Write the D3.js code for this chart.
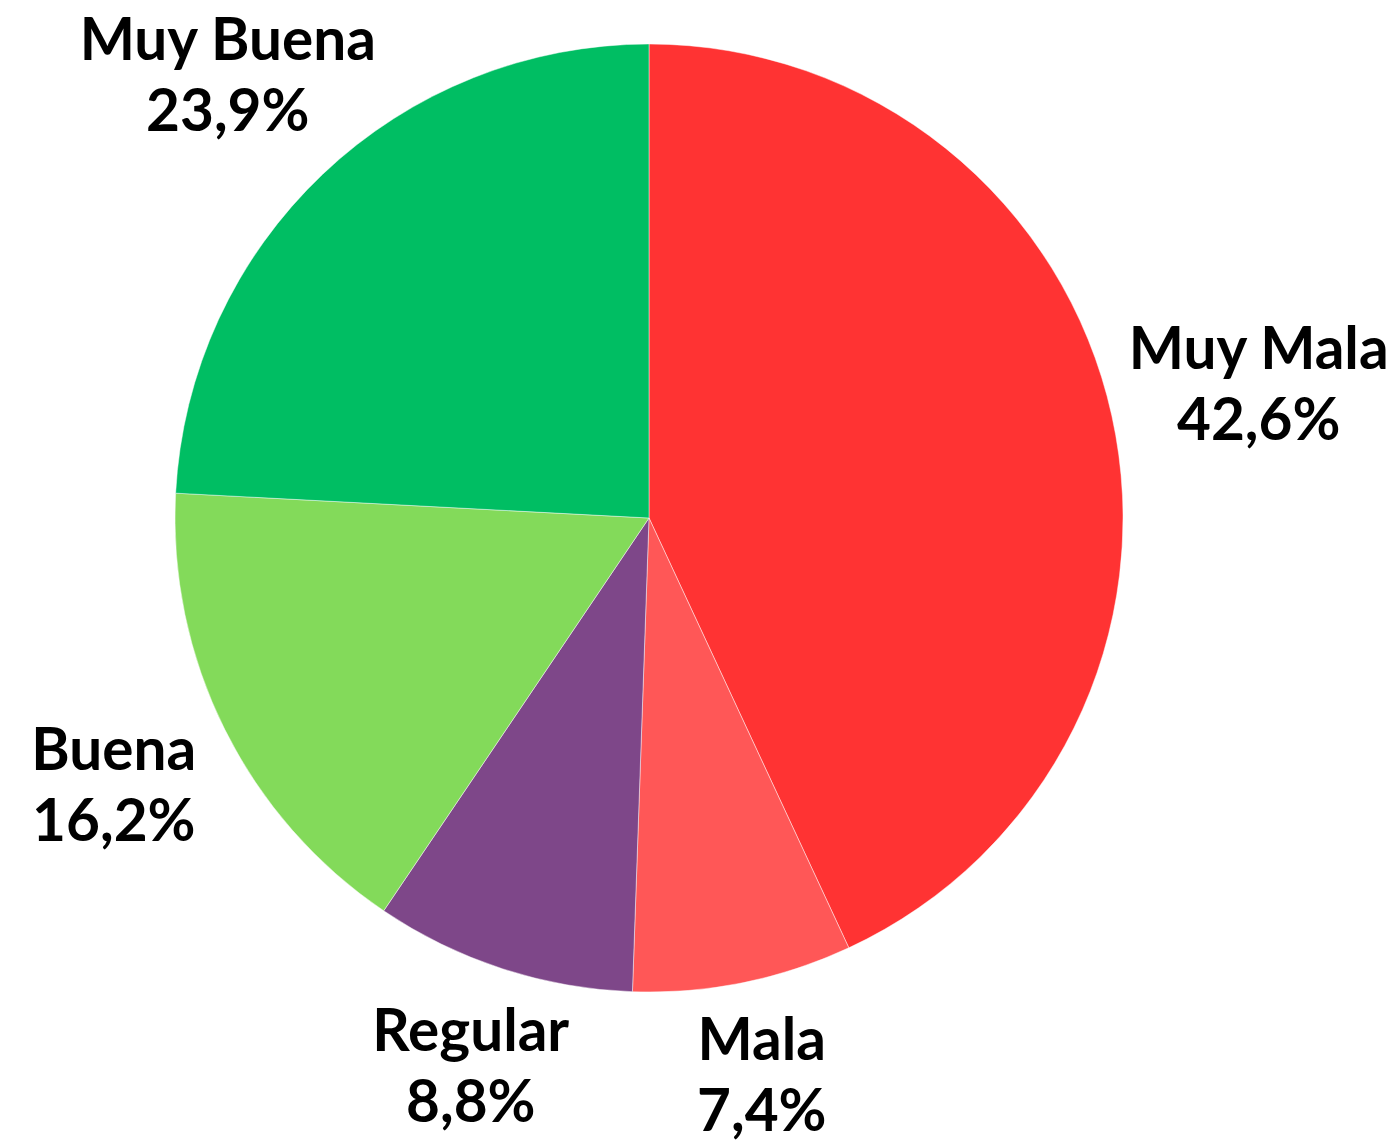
<!DOCTYPE html>
<html><head><meta charset="utf-8">
<script src="https://cdn.jsdelivr.net/npm/d3@7"></script>
<style>html,body{margin:0;padding:0;background:#fff;}</style>
</head><body>
<svg id="chart" width="1395" height="1142"></svg>
<script>
const categories = ["Muy Mala", "Mala", "Regular", "Buena", "Muy Buena"];
const values = [42.6, 7.4, 8.8, 16.2, 23.9];
const labels = ["42,6%", "7,4%", "8,8%", "16,2%", "23,9%"];
const colors = ["#FF3333", "#FF5757", "#7E4789", "#83DA5A", "#00BE63"];

const W = 1395, H = 1142;
const cx = 649, cy = 518, R = 474;
const fontSize = 58.5, lineGap = 71;

const svg = d3.select("#chart");
const g = svg.append("g").attr("transform", `translate(${cx},${cy})`);

const data = categories.map((c, i) => ({cat: c, value: values[i], label: labels[i], color: colors[i]}));
const pie = d3.pie().value(d => d.value).sort(null);
const arc = d3.arc().innerRadius(0).outerRadius(R);
const arcs = pie(data);

g.selectAll("path.slice").data(arcs).join("path")
  .attr("class", "slice")
  .attr("d", arc)
  .attr("fill", d => d.data.color)
  .attr("stroke", "rgba(255,255,255,0.45)")
  .attr("stroke-width", 1);

const lg = g.selectAll("g.lbl").data(arcs).join("g").attr("class", "lbl");
const t = lg.append("text")
  .attr("text-anchor", "middle")
  .attr("font-family", "Lato, 'Open Sans', sans-serif")
  .attr("font-weight", "bold")
  .attr("font-size", fontSize)
  .attr("fill", "#000");
t.append("tspan").attr("class", "l1").attr("x", 0).attr("y", -14.5).text(d => d.data.cat);
t.append("tspan").attr("class", "l2").attr("x", 0).attr("y", -14.5 + lineGap).text(d => d.data.label);

lg.each(function(d) {
  const node = d3.select(this).select("text").node();
  const w = node.getBBox().width;
  const a = (d.startAngle + d.endAngle) / 2;
  const s = Math.sin(a), c = -Math.cos(a);
  const r = R + 87 + 0.5 * Math.abs(s) * w / 2;
  d3.select(this).attr("transform", `translate(${r * s},${r * c})`);
});
</script>
</body></html>
